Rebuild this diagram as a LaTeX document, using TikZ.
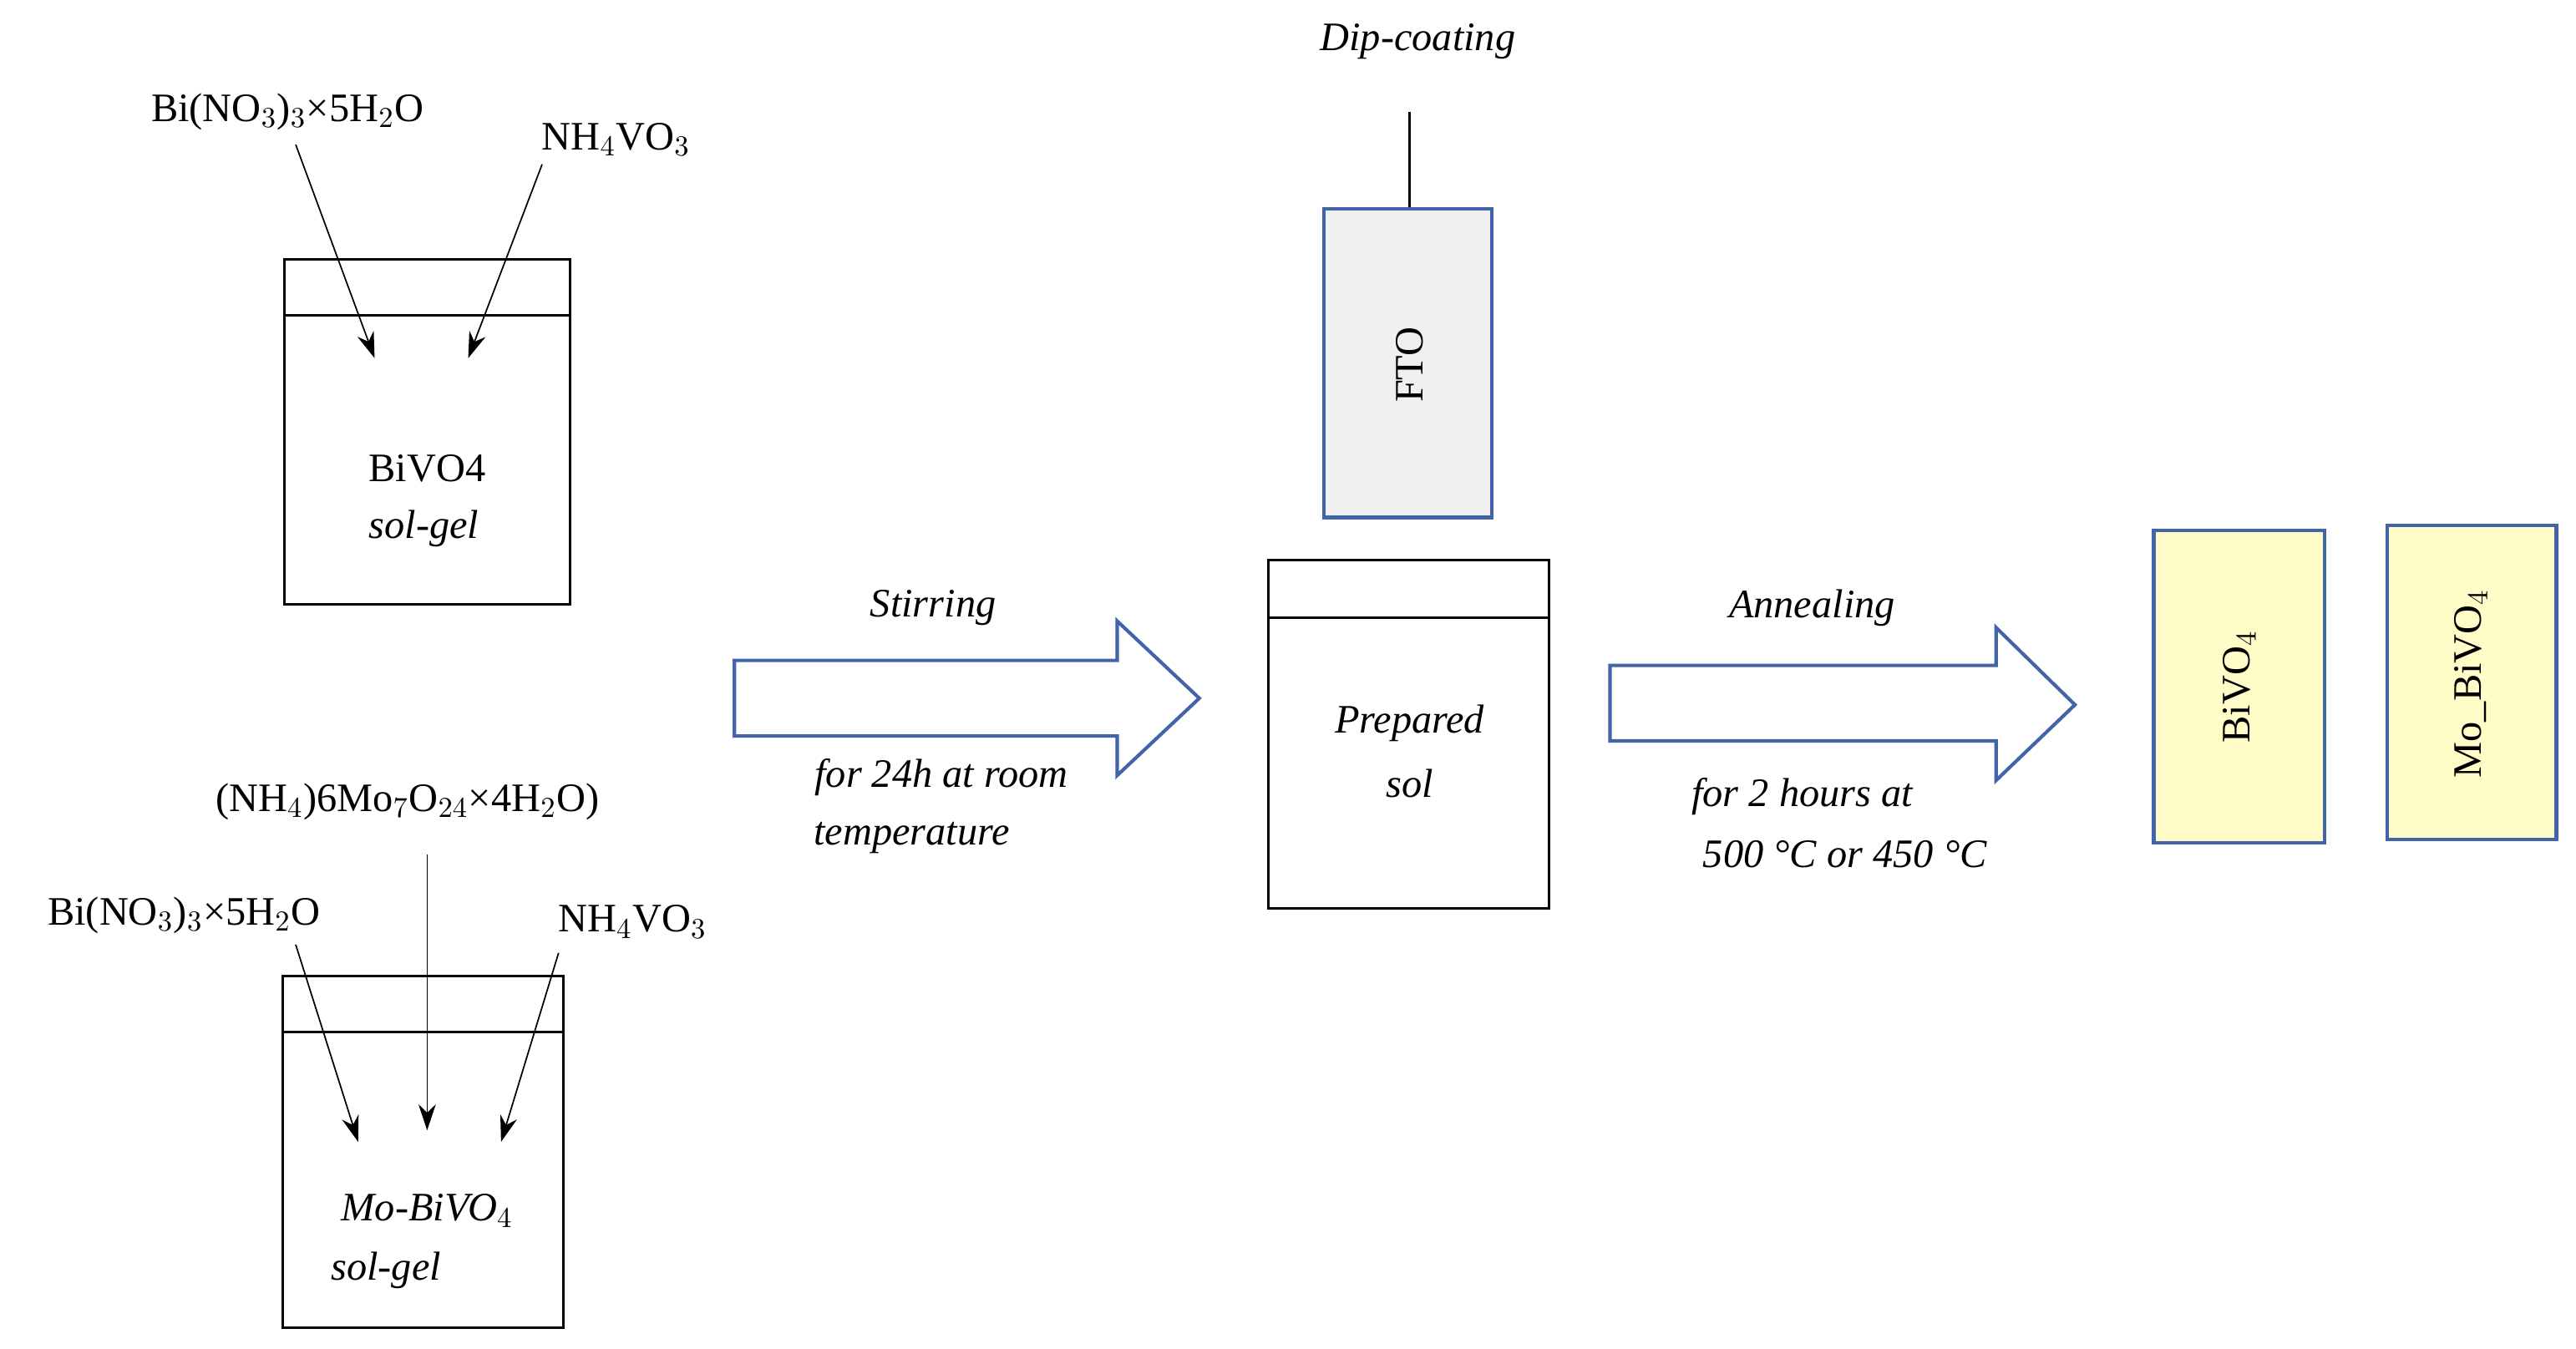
\documentclass[tikz,border=0pt]{standalone}
\usepackage{fontspec}
\setmainfont{Liberation Serif}
\usetikzlibrary{arrows.meta}
\definecolor{bl}{RGB}{68,100,170}
\definecolor{yl}{RGB}{255,252,200}
\definecolor{gr}{RGB}{240,240,242}
\begin{document}
\begin{tikzpicture}[x=0.02cm,y=-0.02cm,
  txt/.style={font=\fontsize{14}{16}\selectfont,inner sep=1pt},
  it/.style={txt,font=\fontsize{14}{16}\selectfont\itshape},
  box/.style={draw,line width=0.9pt},
  arr/.style={-{Stealth[length=9pt,width=6pt]},line width=0.5pt},
  big/.style={draw=bl,line width=1.2pt,fill=white}]
\useasboundingbox (0,0) rectangle (1568,821);
% beaker 1
\draw[box] (173,158) rectangle (347,368); \draw[box] (173,192) -- (347,192);
\node[txt] (a1) at (175,68) {Bi(NO$_3$)$_3$×5H$_2$O};
\node[txt] (a2) at (375,85) {NH$_4$VO$_3$};
\coordinate (t1) at (228,218); \coordinate (t2) at (285,218);
\draw[arr] (180,88) -- (t1); \draw[arr] (330,100) -- (t2);
\node[txt] (b1) at (260,285) {BiVO4};
\node[it] (b2) at (258,322) {sol-gel};
% beaker 2
\draw[box] (172,594) rectangle (343,808); \draw[box] (172,628) -- (343,628);
\node[txt] (c0) at (248,488) {(NH$_4$)6Mo$_7$O$_{24}$×4H$_2$O)};
\node[txt] (c1) at (112,557) {Bi(NO$_3$)$_3$×5H$_2$O};
\node[txt] (c2) at (385,561) {NH$_4$VO$_3$};
\coordinate (u1) at (218,695); \coordinate (u0) at (260,688); \coordinate (u2) at (305,695);
\draw[arr] (180,575) -- (u1); \draw[arr] (260,520) -- (u0); \draw[arr] (340,580) -- (u2);
\node[it] (d1) at (260,737) {Mo-BiVO$_4$};
\node[it] (d2) at (235,773) {sol-gel};
% arrow 1
\draw[big] (447,402) -- (680,402) -- (680,378) -- (730,425) -- (680,472) -- (680,448) -- (447,448) -- cycle;
\node[it] at (568,370) {Stirring};
\node[it] at (573,473) {for 24h at room};
\node[it] at (555,510) {temperature};
% FTO
\node[it] (dc) at (863,25) {Dip-coating};
\draw[line width=1pt] (858,68) -- (858,127);
\draw[draw=bl,line width=1.2pt,fill=gr] (806,127) rectangle (908,315);
\node[txt,rotate=90] (fto) at (858,222) {FTO};
% beaker 3
\draw[box] (772,341) rectangle (943,553); \draw[box] (772,376) -- (943,376);
\node[it] at (858,440) {Prepared};
\node[it] at (858,477) {sol};
% arrow 2
\draw[big] (980,405) -- (1215,405) -- (1215,382) -- (1263,429) -- (1215,475) -- (1215,451) -- (980,451) -- cycle;
\node[it] at (1103,370) {Annealing};
\node[it] at (1097,485) {for 2 hours at};
\node[it] at (1123,520) {500 °C or 450 °C};
% products
\draw[draw=bl,line width=1.2pt,fill=yl] (1311,323) rectangle (1415,513);
\node[txt,rotate=90] at (1363,418) {BiVO$_4$};
\draw[draw=bl,line width=1.2pt,fill=yl] (1453,320) rectangle (1556,511);
\node[txt,rotate=90] at (1504,416) {Mo\_BiVO$_4$};
\end{tikzpicture}
\end{document}
